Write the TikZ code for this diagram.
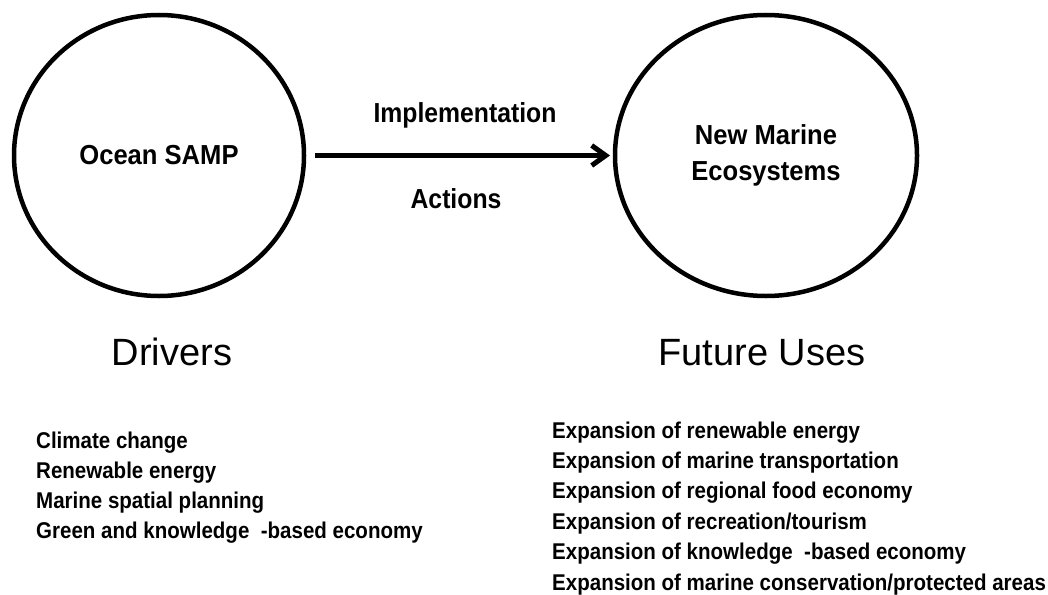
\documentclass[tikz,border=0pt]{standalone}
\usepackage{fontspec}
\setmainfont{Liberation Sans}
\newfontfamily\narrowsans[FakeStretch=0.93]{Liberation Sans}
\newfontfamily\tightsans[FakeStretch=0.9]{Liberation Sans}
\usepackage{tikz}
\usetikzlibrary{shapes.geometric,arrows.meta,positioning}

\begin{document}
\begin{tikzpicture}[x=1pt,y=-1pt,
		bubble/.style={draw,ellipse,line width=4.5pt,inner sep=0pt,align=center,minimum height=281pt,
			font=\narrowsans\bfseries\fontsize{27.5}{36}\selectfont},
		flow/.style={line width=5pt,-{Straight Barb[length=14pt,width=20pt]},shorten <=8.75pt,shorten >=2.75pt},
		lbl/.style={anchor=base,inner sep=0pt,font=\tightsans\bfseries\fontsize{27.5}{32}\selectfont},
		heading/.style={anchor=base,inner sep=0pt,font=\fontsize{38}{44}\selectfont},
		item/.style={anchor=base west,inner sep=0pt,font=\tightsans\bfseries\fontsize{22.8}{30}\selectfont}]
		\useasboundingbox (0,0) rectangle (1048,594);
		% circles and arrow
		\node[bubble,minimum width=290pt] (ocean) at (159,155.5) {Ocean SAMP};
		\node[bubble,minimum width=302pt] (marine) at (766,155.5) {New Marine\\Ecosystems};
		\draw[flow] (ocean) -- (marine);
		\node[lbl] (impl) at (465,122) {Implementation};
		\node[lbl] (act) at (456,208) {Actions};
		% headings
		\node[heading] (drivers) at (172,365) {Drivers};
		\node[heading] (uses) at (762,365) {Future Uses};
		% lists
		\foreach \txt [count=\i] in {Climate change,Renewable energy,Marine spatial planning,
			Green and knowledge~~-based economy}
		\node[item] (driver-\i) at (36,{418+30*\i}) {\txt};
		\foreach \txt [count=\i] in {Expansion of renewable energy,Expansion of marine transportation,
			Expansion of regional food economy,Expansion of recreation/tourism,
			Expansion of knowledge~~-based economy,Expansion of marine conservation/protected areas}
		\node[item] (use-\i) at (552,{407.6+30.4*\i}) {\txt};
	\end{tikzpicture}
\end{document}
